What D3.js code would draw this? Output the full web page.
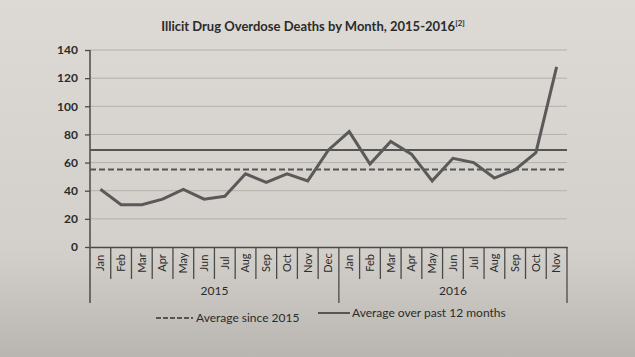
<!DOCTYPE html>
<html>
<head>
<meta charset="utf-8">
<script src="https://cdn.jsdelivr.net/npm/d3@7"></script>
<style>
  html, body { margin: 0; padding: 0; }
  body { width: 635px; height: 357px; overflow: hidden; }
  svg { display: block; }
  text { font-family: Lato, "Open Sans", sans-serif; fill: #2b2b2b; }
</style>
</head>
<body>
<svg id="chart" width="635" height="357"></svg>
<script>
// ---- data ----
const monthLabels = ["Jan","Feb","Mar","Apr","May","Jun","Jul","Aug","Sep","Oct","Nov","Dec",
                     "Jan","Feb","Mar","Apr","May","Jun","Jul","Aug","Sep","Oct","Nov"];
const yearLabels = ["2015", "2016"];
const monthsPerYear = [12, 11];
const deaths = [41,30,30,34,41,34,36,52,46,52,47,69,
                82,59,75,66,47,63,60,49,55,67,128];
const avgSince2015 = 55;
const avgPast12Months = 69;
const yTicks = [0,20,40,60,80,100,120,140];
const titleText = "Illicit Drug Overdose Deaths by Month, 2015-2016";
const titleNote = "[2]";
const legendLabels = ["Average since 2015", "Average over past 12 months"];

(function () {
// ---- layout ----
const W = 635, H = 357;
const mLeft = 90, mRight = 567, mTop = 50, mBottom = 247;
const ink = "#4a4a4a";

const svg = d3.select("#chart");

// paper background
const defs = svg.append("defs");
const grad = defs.append("linearGradient").attr("id","paper").attr("x1",0).attr("y1",0).attr("x2",0).attr("y2",1);
grad.append("stop").attr("offset","0%").attr("stop-color","#dddad5");
grad.append("stop").attr("offset","70%").attr("stop-color","#d3d0cb");
grad.append("stop").attr("offset","100%").attr("stop-color","#b9b6b1");
svg.append("rect").attr("width",W).attr("height",H).attr("fill","url(#paper)");

const idx = d3.range(monthLabels.length);
const x = d3.scaleBand().domain(idx).range([mLeft, mRight]).paddingInner(0).paddingOuter(0);
const y = d3.scaleLinear().domain([0, 140]).range([mBottom, mTop]);
const cx = i => x(i) + x.bandwidth() / 2;

// gridlines
svg.append("g").selectAll("line").data(yTicks.filter(t => t > 0)).join("line")
  .attr("x1", mLeft).attr("x2", mRight)
  .attr("y1", d => y(d)).attr("y2", d => y(d))
  .attr("stroke", "#b3b0ab").attr("stroke-width", 1);

// y axis
const yAxis = svg.append("g").attr("transform", `translate(${mLeft},0)`)
  .call(d3.axisLeft(y).tickValues(yTicks).tickSize(5).tickPadding(7));
yAxis.select(".domain").remove();
yAxis.selectAll(".tick line").attr("stroke", ink).attr("stroke-width", 1.3);
yAxis.selectAll(".tick text").attr("font-size", 12).attr("font-weight", "bold")
  .style("font-family", "Lato, sans-serif").attr("fill", "#2b2b2b");

// y axis line (extends down to close the year boxes)
const yearBottom = mBottom + 56;
const monthBottom = mBottom + 32;
svg.append("line").attr("x1", mLeft).attr("x2", mLeft).attr("y1", y(140)).attr("y2", yearBottom)
  .attr("stroke", ink).attr("stroke-width", 1.5);

// x axis (month labels)
const xAxis = svg.append("g").attr("transform", `translate(0,${mBottom})`)
  .call(d3.axisBottom(x).tickSize(0).tickFormat(i => monthLabels[i]));
xAxis.select(".domain").attr("stroke", ink).attr("stroke-width", 1.5);
xAxis.selectAll(".tick text")
  .attr("font-size", 11).style("font-family", "Lato, sans-serif").attr("fill", "#2b2b2b")
  .attr("transform", "rotate(-90)")
  .attr("text-anchor", "middle").attr("dy", "0.35em")
  .attr("x", -16).attr("y", 0);

// month separators
const sepIdx = d3.range(1, monthLabels.length);
let cum = 0;
const yearStarts = monthsPerYear.map(n => { const s = cum; cum += n; return s; });
svg.append("g").selectAll("line").data(sepIdx).join("line")
  .attr("x1", i => x(i)).attr("x2", i => x(i))
  .attr("y1", mBottom).attr("y2", i => yearStarts.includes(i) ? yearBottom : monthBottom)
  .attr("stroke", ink).attr("stroke-width", 1.3);
svg.append("line").attr("x1", mRight).attr("x2", mRight).attr("y1", mBottom).attr("y2", yearBottom)
  .attr("stroke", ink).attr("stroke-width", 1.3);

// year labels
svg.append("g").selectAll("text").data(yearLabels).join("text")
  .attr("x", (d, k) => {
    const s = yearStarts[k], e = s + monthsPerYear[k] - 1;
    return (x(s) + x(e) + x.bandwidth()) / 2;
  })
  .attr("y", mBottom + 48)
  .attr("text-anchor", "middle").attr("font-size", 12)
  .text(d => d);

// average lines
svg.append("line").attr("x1", mLeft).attr("x2", mRight)
  .attr("y1", y(avgPast12Months)).attr("y2", y(avgPast12Months))
  .attr("stroke", "#555").attr("stroke-width", 2);
svg.append("line").attr("x1", mLeft).attr("x2", mRight)
  .attr("y1", y(avgSince2015)).attr("y2", y(avgSince2015))
  .attr("stroke", "#555").attr("stroke-width", 2).attr("stroke-dasharray", "6,3");

// data line
const line = d3.line().x((d, i) => cx(i)).y(d => y(d));
svg.append("path").datum(deaths).attr("d", line)
  .attr("fill", "none").attr("stroke", "#5a5a5a").attr("stroke-width", 3)
  .attr("stroke-linejoin", "miter");

// title
const t = svg.append("text").attr("x", 313).attr("y", 31).attr("text-anchor", "middle")
  .attr("font-size", 13).attr("font-weight", "bold");
t.append("tspan").text(titleText);
t.append("tspan").attr("font-size", 8).attr("dy", -5).text(titleNote);

// legend
const lg = svg.append("g");
lg.append("line").attr("x1", 156).attr("x2", 193).attr("y1", 318).attr("y2", 318)
  .attr("stroke", "#555").attr("stroke-width", 2).attr("stroke-dasharray", "5,2");
lg.append("text").attr("x", 196).attr("y", 322).attr("font-size", 12).text(legendLabels[0]);
lg.append("line").attr("x1", 318).attr("x2", 350).attr("y1", 313).attr("y2", 313)
  .attr("stroke", "#555").attr("stroke-width", 2);
lg.append("text").attr("x", 352).attr("y", 317).attr("font-size", 12).text(legendLabels[1]);
})();
</script>
</body>
</html>
